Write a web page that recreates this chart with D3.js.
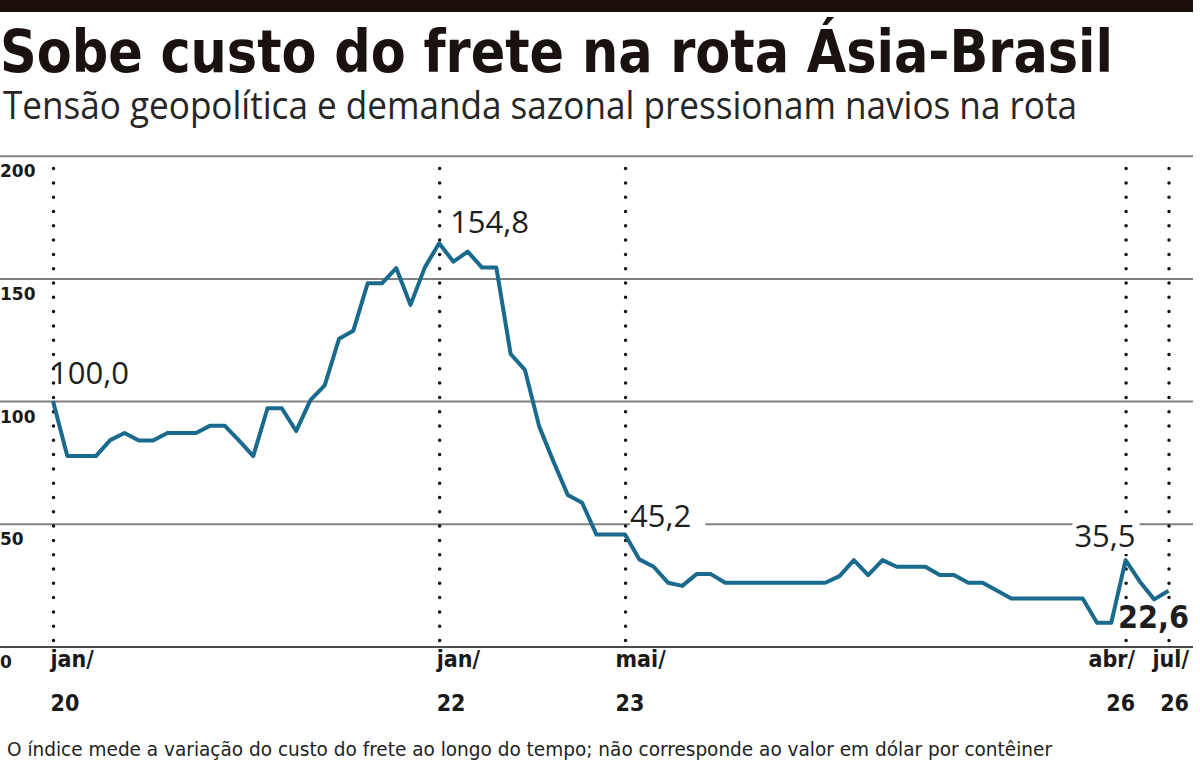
<!DOCTYPE html>
<html>
<head>
<meta charset="utf-8">
<script src="https://cdn.jsdelivr.net/npm/d3@7"></script>
<style>
  body { margin: 0; background: #fff; }
  svg { display: block; }
</style>
</head>
<body>
<div class="chart"></div>
<script>
// índice do frete Ásia-Brasil, um ponto por leitura (jan/20 = 100)
var values = [
  100.0, 77.6, 77.6, 77.6, 84.1, 87.0, 83.9, 83.9, 87.0, 87.0,
  87.0, 90.0, 90.0, 84.0, 77.6, 97.1, 97.1, 87.8, 100.4, 106.4,
  125.4, 128.7, 148.0, 148.0, 154.2, 139.2, 154.5, 164.3, 156.8, 160.9,
  154.4, 154.4, 119.2, 112.7, 89.6, 75.3, 61.7, 58.6, 45.6, 45.6,
  45.6, 35.5, 32.5, 26.0, 24.7, 29.5, 29.5, 26.0, 26.0, 26.0,
  26.0, 26.0, 26.0, 26.0, 26.0, 28.7, 35.2, 29.1, 35.2, 32.5,
  32.5, 32.5, 29.1, 29.1, 26.0, 26.0, 22.8, 19.6, 19.6, 19.6,
  19.6, 19.6, 19.6, 9.7, 9.7, 35.2, 26.4, 19.2, 22.7
];
var tickIdx = [0, 27, 40, 75, 78];
var tickMonth = ['jan/', 'jan/', 'mai/', 'abr/', 'jul/'];
var tickYear = ['20', '22', '23', '26', '26'];
var yTicks = [0, 50, 100, 150, 200];
var noteIdx = [0, 27, 40, 75, 78];
var noteText = ['100,0', '154,8', '45,2', '35,5', '22,6'];

var title = 'Sobe custo do frete na rota Ásia-Brasil';
var subtitle = 'Tensão geopolítica e demanda sazonal pressionam navios na rota';
var footer = 'O índice mede a variação do custo do frete ao longo do tempo; não corresponde ao valor em dólar por contêiner';

var W = 1200, H = 761;
var right = 1193;
var lineColor = '#1a6a8e';
var cond = '"DejaVu Sans Condensed", "DejaVu Sans", sans-serif';

var svg = d3.select('.chart')
  .append('svg')
    .attr('width', W)
    .attr('height', H);

// faixa preta do topo
svg.append('rect')
  .attr('x', 0).attr('y', 0)
  .attr('width', right).attr('height', 12)
  .attr('fill', '#1a0f0a');

svg.append('text')
  .text(title)
  .attr('x', 0).attr('y', 72)
  .attr('textLength', 1113)
  .attr('lengthAdjust', 'spacingAndGlyphs')
  .style('font-family', cond)
  .style('font-weight', 'bold')
  .style('font-size', '58px')
  .attr('fill', '#1a1210');

svg.append('text')
  .text(subtitle)
  .attr('x', 3).attr('y', 119)
  .attr('textLength', 1074)
  .attr('lengthAdjust', 'spacingAndGlyphs')
  .style('font-family', '"Open Sans", "Noto Sans", sans-serif')
  .style('font-size', '39px')
  .attr('fill', '#262626');

var xScale = d3.scaleLinear()
  .domain([0, values.length - 1])
  .range([53, 1168.5]);

var yScale = d3.scaleLinear()
  .domain([0, 200])
  .range([646.5, 155.7]);

// camadas, de baixo para cima
var gridLayer = svg.append('g');
var dotLayer = svg.append('g');
var bgLayer = svg.append('g');
var lineLayer = svg.append('g');
var noteLayer = svg.append('g');

// grade horizontal + rótulos do eixo y
var yAxis = gridLayer.append('g')
  .call(d3.axisRight(yScale).tickValues(yTicks).tickSize(right).tickFormat(d => d));
yAxis.select('.domain').remove();
yAxis.selectAll('.tick line')
  .attr('stroke', d => d === 0 ? '#4a4a4a' : '#808080')
  .attr('stroke-width', 2);
yAxis.selectAll('.tick text')
  .attr('x', 0)
  .attr('dy', 21)
  .attr('text-anchor', 'start')
  .style('font-family', '"DejaVu Sans", sans-serif')
  .style('font-weight', 'bold')
  .style('font-size', '17px')
  .attr('fill', '#1a1a1a');

// linhas pontilhadas verticais + rótulos de data
var xAxis = dotLayer.append('g')
  .attr('transform', `translate(0, ${yScale(0)})`)
  .call(d3.axisBottom(xScale).tickValues(tickIdx).tickSize(-(yScale(0) - 160)).tickFormat(''));
xAxis.select('.domain').remove();
xAxis.selectAll('.tick line')
  .attr('stroke', '#111')
  .attr('stroke-width', 3.5)
  .attr('stroke-linecap', 'round')
  .attr('stroke-dasharray', '0 14.3')
  .attr('stroke-dashoffset', 8.3);

var tickDx = [-3, -3, -10, 9, 20];
xAxis.selectAll('.tick').each(function(d, i) {
  var t = d3.select(this).select('text')
    .attr('y', 0).attr('dy', null)
    .attr('x', tickDx[i])
    .attr('text-anchor', i < 3 ? 'start' : 'end')
    .style('font-family', cond)
    .style('font-weight', 'bold')
    .style('font-size', '23px')
    .attr('fill', '#1a1a1a');
  t.append('tspan').attr('x', tickDx[i]).attr('y', 20).text(tickMonth[i]);
  t.append('tspan').attr('x', tickDx[i]).attr('y', 64).text(tickYear[i]);
});

// linha do índice
var line = d3.line()
  .x((d, i) => xScale(i))
  .y(d => yScale(d));

lineLayer.append('path')
  .datum(values)
  .attr('d', line)
  .attr('fill', 'none')
  .attr('stroke', lineColor)
  .attr('stroke-width', 4)
  .attr('stroke-linejoin', 'round');

// rótulos de valor
var notePos = [
  { dx: -3, dy: -17, anchor: 'start', bold: false },
  { dx: 11, dy: -10, anchor: 'start', bold: false },
  { dx: 5, dy: -8, anchor: 'start', bold: false },
  { dx: 10, dy: -13, anchor: 'end', bold: false },
  { dx: 20.5, dy: 37, anchor: 'end', bold: true }
];

noteIdx.forEach(function(idx, i) {
  var p = notePos[i];
  var t = noteLayer.append('text')
    .text(noteText[i])
    .attr('x', xScale(idx) + p.dx)
    .attr('y', yScale(values[idx]) + p.dy)
    .attr('text-anchor', p.anchor)
    .style('font-family', p.bold ? cond : '"Open Sans", "Noto Sans", sans-serif')
    .style('font-weight', p.bold ? 'bold' : 'normal')
    .style('font-size', p.bold ? '32px' : '31px')
    .attr('fill', '#1e1e1e');

  // fundo branco atrás dos rótulos que cortam a grade
  if (i < 2) return;
  var b = t.node().getBBox();
  var padL = i === 2 ? 0 : 2;
  var padR = i === 2 ? 14 : 4;
  bgLayer.append('rect')
    .attr('x', b.x - padL)
    .attr('y', b.y + 4)
    .attr('width', b.width + padL + padR)
    .attr('height', b.height - 6)
    .attr('fill', '#fff');
});

svg.append('text')
  .text(footer)
  .attr('x', 7).attr('y', 756)
  .attr('textLength', 1045)
  .attr('lengthAdjust', 'spacingAndGlyphs')
  .style('font-family', cond)
  .style('font-size', '19px')
  .attr('fill', '#222');
</script>
</body>
</html>
